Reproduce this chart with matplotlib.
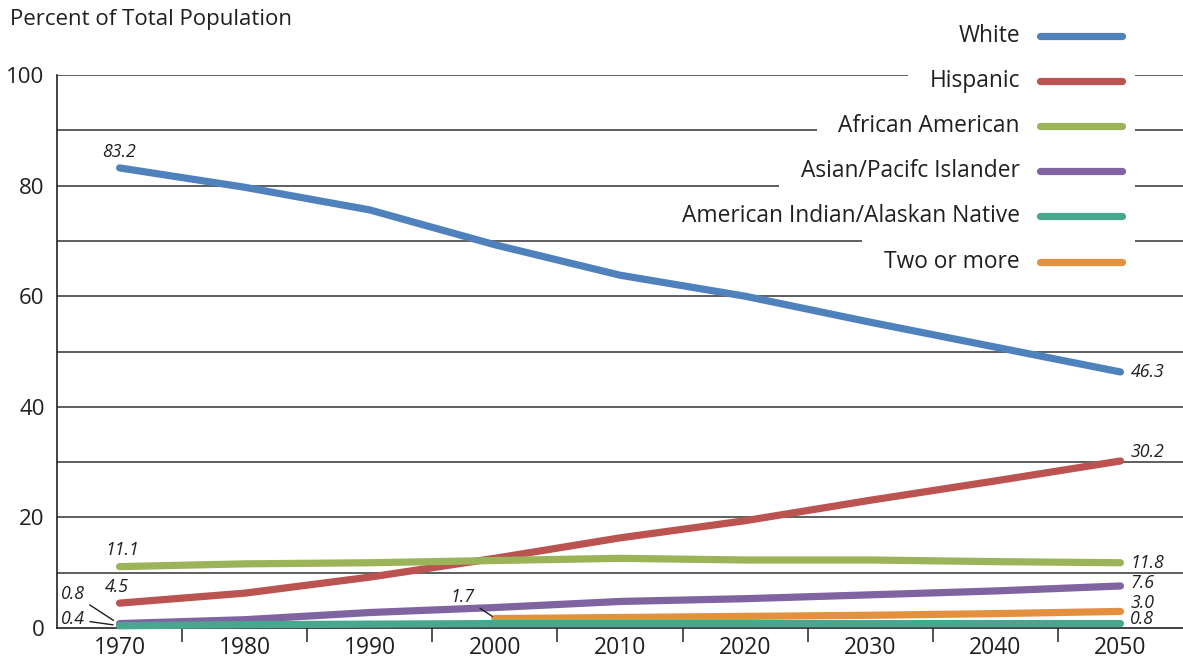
import matplotlib
matplotlib.use("Agg")
import matplotlib.pyplot as plt
import numpy as np

plt.rcParams['font.family'] = ['Open Sans', 'DejaVu Sans']

years = [1970, 1980, 1990, 2000, 2010, 2020, 2030, 2040, 2050]
white = [83.2, 79.7, 75.6, 69.3, 63.8, 60.0, 55.3, 50.8, 46.3]
hispanic = [4.5, 6.3, 9.2, 12.6, 16.3, 19.4, 23.1, 26.6, 30.2]
african = [11.1, 11.6, 11.8, 12.2, 12.6, 12.3, 12.3, 12.0, 11.8]
asian = [0.8, 1.5, 2.8, 3.7, 4.8, 5.3, 6.0, 6.7, 7.6]
amind = [0.4, 0.6, 0.7, 0.8, 0.8, 0.8, 0.8, 0.8, 0.8]
two_years = [2000, 2010, 2020, 2030, 2040, 2050]
two_more = [1.7, 1.9, 2.1, 2.3, 2.6, 3.0]

names = ["White", "Hispanic", "African American", "Asian/Pacifc Islander",
         "American Indian/Alaskan Native", "Two or more"]
colors = ["#4f82bc", "#bb5450", "#9bb45a", "#8064a2", "#4aa78f", "#e3913f"]
yticks = [0, 20, 40, 60, 80, 100]
xticks = years

W, H = 1183, 667
fig = plt.figure(figsize=(W / 100, H / 100), dpi=100)
ax = fig.add_axes([57 / W, (H - 628) / H, 1 - 57 / W, (628 - 75) / H])
ax.set_xlim(1965, 2055)
ax.set_ylim(0, 100)

for s in ["top", "right"]:
    ax.spines[s].set_visible(False)
ax.spines["left"].set_color("#222222")
ax.spines["bottom"].set_color("#222222")
ax.spines["left"].set_linewidth(1.2)
ax.spines["bottom"].set_linewidth(1.2)

ax.set_yticks(yticks)
ax.set_yticklabels([str(v) for v in yticks], fontsize=16, color="#231f20")
ax.tick_params(axis="y", length=0, pad=9)
ax.set_xticks(xticks)
ax.set_xticklabels([str(v) for v in xticks], fontsize=16.5, color="#231f20")
ax.tick_params(axis="x", which="major", length=0, pad=6)
ax.set_xticks([y + 5 for y in years[:-1]], minor=True)
ax.tick_params(axis="x", which="minor", length=10, width=1.2, color="#333333", direction="out")

series = [(years, white), (years, hispanic), (years, african), (years, asian),
          (years, amind), (two_years, two_more)]
order = [0, 1, 2, 3, 5, 4]
for i in order:
    xs, ys = series[i]
    ax.plot(xs, ys, color=colors[i], lw=5.2, solid_capstyle="round",
            solid_joinstyle="round", clip_on=False, zorder=5)

# end labels
ann = dict(fontsize=12.8, style="italic", color="#231f20", zorder=6)
ax.text(years[0], white[0] + 1.3, f"{white[0]:.1f}", ha="center", va="bottom", **ann)
ax.text(years[0] + 0.2, african[0] + 1.3, f"{african[0]:.1f}", ha="center", va="bottom", **ann)
ax.text(years[0] - 0.2, hispanic[0] + 1.3, f"{hispanic[0]:.1f}", ha="center", va="bottom", **ann)
ax.annotate(f"{asian[0]:.1f}", xy=(years[0] - 0.3, asian[0] + 0.3), xytext=(1967.2, 6.2),
            ha="right", va="center", arrowprops=dict(arrowstyle="-", color="#231f20", lw=1), **ann)
ax.annotate(f"{amind[0]:.1f}", xy=(years[0] - 0.3, amind[0] + 0.1), xytext=(1967.2, 1.6),
            ha="right", va="center", arrowprops=dict(arrowstyle="-", color="#231f20", lw=1), **ann)
ax.annotate(f"{two_more[0]:.1f}", xy=(two_years[0], two_more[0] + 0.1), xytext=(1998.4, 5.6),
            ha="right", va="center", arrowprops=dict(arrowstyle="-", color="#231f20", lw=1), **ann)

end_vals = [white[-1], hispanic[-1], african[-1], asian[-1], two_more[-1], amind[-1]]
end_pos = [white[-1], hispanic[-1] + 1.6, african[-1], asian[-1] + 0.5, two_more[-1] + 1.6, amind[-1] + 0.8]
for v, p in zip(end_vals, end_pos):
    ax.text(2050.8, p, f"{v:.1f}", ha="left", va="center", **ann)

# legend
row_px = [36, 81, 126, 171, 216, 262]
text_x = (1020 - 57) / 1126
l0, l1 = (1040 - 57) / 1126, (1122 - 57) / 1126
texts = []
for i, (n, c) in enumerate(zip(names, colors)):
    ya = (628 - row_px[i]) / 553
    t = ax.text(text_x, ya, n, transform=ax.transAxes, ha="right", va="center",
                fontsize=16.4, color="#231f20")
    texts.append(t)
    ax.plot([l0, l1], [ya, ya], transform=ax.transAxes, color=c, lw=5.2,
            solid_capstyle="round", clip_on=False)

# gridlines with gaps around legend entries
fig.canvas.draw()
inv = ax.transData.inverted()
gap_for = {100: 1, 90: 2, 80: 3, 70: 5}
gap_right = 1965 + (1135 - 57) / 1126 * 90
for g in range(10, 101, 10):
    if g in gap_for:
        bb = texts[gap_for[g]].get_window_extent()
        xl = inv.transform((bb.x0 - 22, 0))[0]
        ax.hlines(g, 1965, xl, color="#333333", lw=1.1, zorder=1)
        ax.hlines(g, gap_right, 2055, color="#333333", lw=1.1, zorder=1)
    else:
        ax.hlines(g, 1965, 2055, color="#333333", lw=1.1, zorder=1)

fig.text(10 / W, 1 - 20 / H, "Percent of Total Population", ha="left", va="center",
         fontsize=16, color="#231f20")

fig.savefig("out.png", dpi=100)
